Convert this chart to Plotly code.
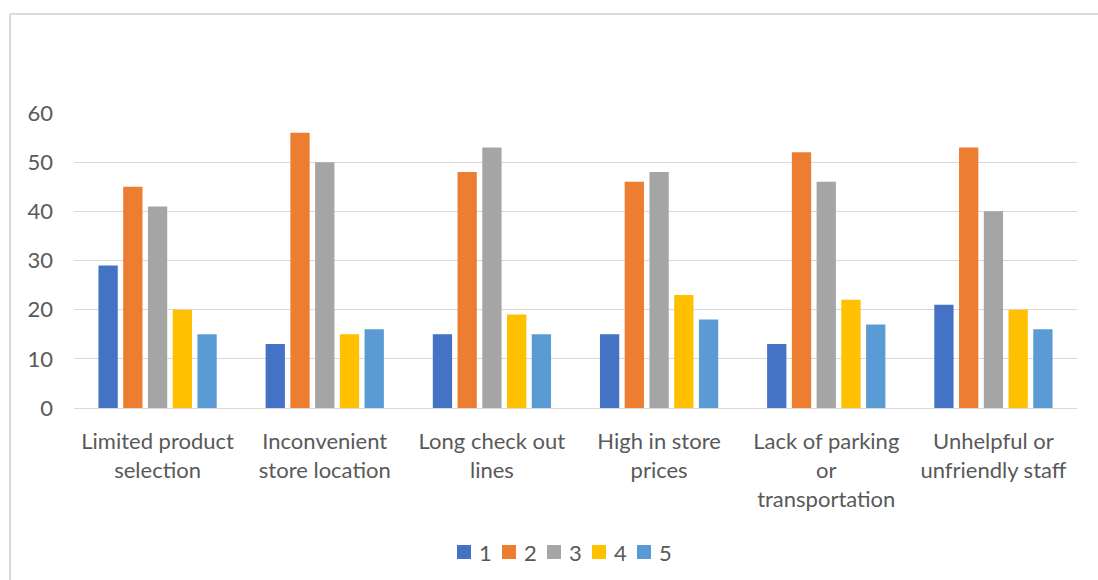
import plotly.graph_objects as go

# Survey: reasons for not shopping in store, counts by rating (1-5)
categories = [
    "Limited product<br>selection",
    "Inconvenient<br>store location",
    "Long check out<br>lines",
    "High in store<br>prices",
    "Lack of parking<br>or<br>transportation",
    "Unhelpful or<br>unfriendly staff",
]
series_names = ["1", "2", "3", "4", "5"]
rating_1 = [29, 13, 15, 15, 13, 21]
rating_2 = [45, 56, 48, 46, 52, 53]
rating_3 = [41, 50, 53, 48, 46, 40]
rating_4 = [20, 15, 19, 23, 22, 20]
rating_5 = [15, 16, 15, 18, 17, 16]
y_ticks = [0, 10, 20, 30, 40, 50, 60]

colors = ["#4472C4", "#ED7D31", "#A5A5A5", "#FFC000", "#5B9BD5"]
all_values = [rating_1, rating_2, rating_3, rating_4, rating_5]

font_family = "Lato, 'Open Sans', sans-serif"
text_color = "#595959"
grid_color = "#D9D9D9"
fs = 22

fig = go.Figure()
for name, vals, col in zip(series_names, all_values, colors):
    fig.add_trace(go.Bar(
        x=categories, y=vals, name=name,
        marker=dict(color=col, line=dict(width=0)),
    ))

W, H = 1098, 580
ml, mr, mt, mb = 74, 21, 113, 172
pw, ph = W - ml - mr, H - mt - mb

def px_x(x):
    return (x - ml) / pw

def px_y(y):
    return (H - mb - y) / ph

# outer chart frame (top and left edges)
shapes = [
    dict(type="line", xref="paper", yref="paper",
         x0=px_x(10), x1=px_x(1098), y0=px_y(14), y1=px_y(14),
         line=dict(color=grid_color, width=2)),
    dict(type="line", xref="paper", yref="paper",
         x0=px_x(10), x1=px_x(10), y0=px_y(14), y1=px_y(580),
         line=dict(color=grid_color, width=2)),
]
annotations = []

# legend row: square key plus label for each series, centred under the plot
key, gap, pitch = 14, 6, 45
legend_left = 457
legend_mid_y = 552
for i, (name, col) in enumerate(zip(series_names, colors)):
    x0 = legend_left + i * pitch
    shapes.append(dict(
        type="rect", xref="paper", yref="paper",
        x0=px_x(x0), x1=px_x(x0 + key),
        y0=px_y(legend_mid_y + key / 2), y1=px_y(legend_mid_y - key / 2),
        fillcolor=col, line=dict(width=0),
    ))
    annotations.append(dict(
        xref="paper", yref="paper", x=px_x(x0 + key + gap), y=px_y(legend_mid_y),
        xanchor="left", yanchor="middle", text=name, showarrow=False,
        font=dict(size=fs, color=text_color, family=font_family),
    ))

fig.update_layout(
    width=W, height=H,
    margin=dict(l=ml, r=mr, t=mt, b=mb, pad=0, autoexpand=False),
    paper_bgcolor="white", plot_bgcolor="white",
    barmode="group", bargap=0.26, bargroupgap=0.22,
    font=dict(family=font_family, size=fs, color=text_color),
    showlegend=False,
    xaxis=dict(
        showgrid=False, showline=True, linecolor=grid_color, linewidth=1,
        ticks="", ticklabelstandoff=14, automargin=False,
        tickfont=dict(size=fs, color=text_color),
        fixedrange=True,
    ),
    yaxis=dict(
        range=[0, 60], tickvals=y_ticks, showgrid=True,
        gridcolor=grid_color, gridwidth=1, zeroline=False,
        showline=False, ticks="", ticklabelstandoff=20, automargin=False,
        tickfont=dict(size=fs, color=text_color),
        fixedrange=True,
    ),
    shapes=shapes,
    annotations=annotations,
)

fig.write_html("out.html")
